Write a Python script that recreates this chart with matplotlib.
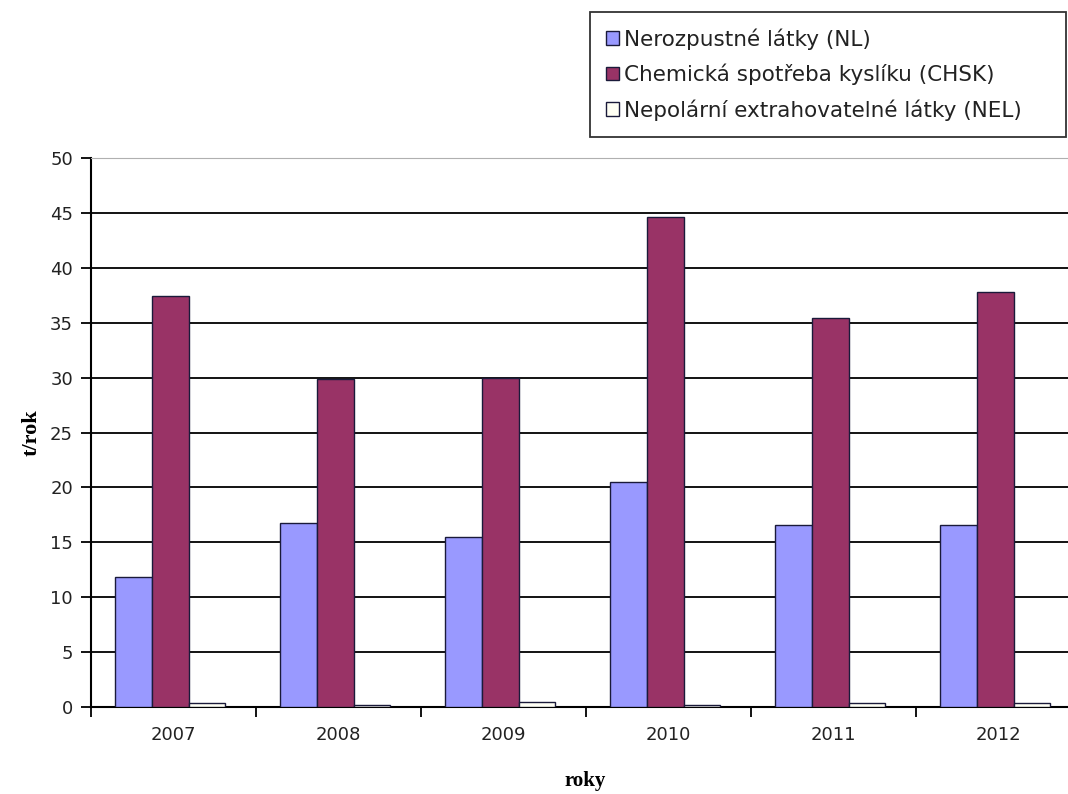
import matplotlib.pyplot as plt
import numpy as np

years = ["2007", "2008", "2009", "2010", "2011", "2012"]
nl = [11.8, 16.8, 15.5, 20.5, 16.6, 16.6]
chsk = [37.4, 29.9, 30.0, 44.6, 35.4, 37.8]
nel = [0.4, 0.15, 0.5, 0.15, 0.35, 0.35]
series_names = [
    "Nerozpustné látky (NL)",
    "Chemická spotřeba kyslíku (CHSK)",
    "Nepolární extrahovatelné látky (NEL)",
]
colors = ["#9999FF", "#993366", "#FFFFF4"]

plt.rcParams["font.family"] = ["DejaVu Sans"]

fig = plt.figure(figsize=(10.68, 7.94), dpi=100)
ax = fig.add_axes([91 / 1068, 1 - 707 / 794, 990 / 1068, 549 / 794])

x = np.arange(len(years))
width = 0.222
offsets = [-1, 0, 1]
for values, name, color, off in zip([nl, chsk, nel], series_names, colors, offsets):
    ax.bar(x + off * width - 0.02, values, width, color=color, edgecolor="#1a1a3a",
           linewidth=1.0, label=name, zorder=3)

ax.set_xlim(-0.5, len(years) - 0.5)
ax.set_ylim(0, 50)
ax.set_yticks(range(0, 51, 5))
ax.yaxis.grid(True, color="black", linewidth=1.3, zorder=0)
ax.set_axisbelow(True)

ax.set_xticks(x)
ax.set_xticklabels(years, fontsize=13, color="#222222")
ax.set_xticks(np.arange(-0.5, len(years), 1), minor=True)
ax.tick_params(axis="x", which="major", length=0, pad=14)
ax.tick_params(axis="x", which="minor", length=7, width=1.3, direction="out")
ax.tick_params(axis="y", length=7, width=1.3, labelsize=13, pad=6, labelcolor="#222222")

ax.spines["right"].set_visible(False)
ax.spines["top"].set_color("#b0b0b0")
ax.spines["left"].set_linewidth(1.5)
ax.spines["bottom"].set_linewidth(1.5)

ax.set_ylabel("t/rok", fontsize=16, fontweight="bold",
              family=["Liberation Serif", "DejaVu Serif"], labelpad=6)
fig.text(585 / 1068, 1 - 781 / 794, "roky", fontsize=15, fontweight="bold",
         family=["Liberation Serif", "DejaVu Serif"], ha="center", va="center")

leg = fig.legend(loc="upper left",
                 bbox_to_anchor=(590 / 1068, 1 - 135 / 794, 476 / 1068, 123 / 794),
                 mode="expand", frameon=True, fancybox=False, fontsize=15.5,
                 handlelength=0.6, handleheight=0.6, handletextpad=0.25,
                 labelspacing=0.65, borderpad=0.75, borderaxespad=0)
leg.get_frame().set_edgecolor("black")
leg.get_frame().set_linewidth(1.3)
for t in leg.get_texts():
    t.set_color("#222222")

fig.savefig("out.png", dpi=100)
